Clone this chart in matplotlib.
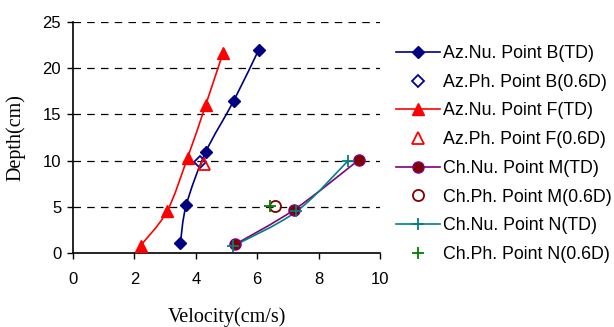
import matplotlib
matplotlib.use("Agg")
import matplotlib.pyplot as plt
import numpy as np
from matplotlib.path import Path
from matplotlib.patches import PathPatch
from matplotlib.lines import Line2D

# Data (velocity cm/s, depth cm)
azB_td_v = [3.50, 3.69, 4.32, 5.24, 6.05]
azB_td_d = [1.1, 5.2, 10.9, 16.5, 22.0]
azB_06_v = [4.13]
azB_06_d = [9.8]
azF_td_v = [2.20, 3.06, 3.73, 4.32, 4.88]
azF_td_d = [0.8, 4.5, 10.3, 16.0, 21.6]
azF_06_v = [4.27]
azF_06_d = [9.6]
chM_td_v = [5.29, 7.21, 9.32]
chM_td_d = [0.95, 4.7, 10.1]
chM_06_v = [6.58]
chM_06_d = [5.1]
chN_td_v = [5.22, 7.28, 8.95]
chN_td_d = [0.75, 4.5, 9.95]
chN_06_v = [6.41]
chN_06_d = [5.1]

labels = ["Az.Nu. Point B(TD)", "Az.Ph. Point B(0.6D)",
          "Az.Nu. Point F(TD)", "Az.Ph. Point F(0.6D)",
          "Ch.Nu. Point M(TD)", "Ch.Ph. Point M(0.6D)",
          "Ch.Nu. Point N(TD)", "Ch.Ph. Point N(0.6D)"]

fig = plt.figure(figsize=(6.14, 3.27), dpi=100)
ax = fig.add_axes([73/614, 1-253/327, (380-73)/614, (253-22)/327])

sans = "Liberation Sans"
serif = "Liberation Serif"


def smooth_line(ax, xs, ys, color, lw=1.2):
    """Excel-like smoothed line: cubic Bezier segments through the points."""
    p = np.column_stack([xs, ys]).astype(float)
    n = len(p)
    verts = [p[0]]
    codes = [Path.MOVETO]
    for i in range(n - 1):
        p0 = p[i - 1] if i > 0 else p[i]
        p1, p2 = p[i], p[i + 1]
        p3 = p[i + 2] if i + 2 < n else p[i + 1]
        c1 = p1 + (p2 - p0) / 6.0
        c2 = p2 - (p3 - p1) / 6.0
        verts += [c1, c2, p2]
        codes += [Path.CURVE4] * 3
    ax.add_patch(PathPatch(Path(verts, codes), fc="none", ec=color, lw=lw,
                           zorder=2))


series = [
    (azB_td_v, azB_td_d, dict(color="#000080", marker="D", ms=6,
                              mfc="#000080", mec="#000080"), True),
    (azB_06_v, azB_06_d, dict(color="#0000A0", marker="D", ms=6,
                              mfc="none", mec="#0000A0", mew=1.3), False),
    (azF_td_v, azF_td_d, dict(color="#FF0000", marker="^", ms=8.5,
                              mfc="#FF0000", mec="#FF0000"), True),
    (azF_06_v, azF_06_d, dict(color="#FF0000", marker="^", ms=8.5,
                              mfc="none", mec="#FF0000", mew=1.3), False),
    (chM_td_v, chM_td_d, dict(color="#800080", marker="o", ms=8,
                              mfc="#800000", mec="#800080"), True),
    (chM_06_v, chM_06_d, dict(color="#800000", marker="o", ms=8,
                              mfc="none", mec="#800000", mew=1.3), False),
    (chN_td_v, chN_td_d, dict(color="#008080", marker="+", ms=9,
                              mec="#008080", mew=1.3), True),
    (chN_06_v, chN_06_d, dict(color="#008000", marker="+", ms=9,
                              mec="#008000", mew=1.3), False),
]

handles = []
for xs, ys, st, has_line in series:
    if has_line:
        smooth_line(ax, xs, ys, st["color"])
    ax.plot(xs, ys, ls="none", zorder=3, **st)
    handles.append(Line2D([], [], ls="-" if has_line else "none", lw=1.2, **st))

ax.set_xlim(0, 10)
ax.set_ylim(0, 25)
ax.set_xticks([0, 2, 4, 6, 8, 10])
ax.set_yticks([0, 5, 10, 15, 20, 25])
for y in [5, 10, 15, 20, 25]:
    ax.axhline(y, color="black", lw=0.9, ls=(0, (6, 5)), zorder=0)
for s in ["top", "right"]:
    ax.spines[s].set_visible(False)
ax.spines["left"].set_linewidth(1.2)
ax.spines["bottom"].set_linewidth(1.2)
ax.tick_params(direction="out", length=4.5, width=1, labelsize=12)
ax.tick_params(axis="x", pad=9)
ax.tick_params(axis="y", pad=4)
for t in ax.get_xticklabels() + ax.get_yticklabels():
    t.set_fontfamily(sans)

ax.set_xlabel("Velocity(cm/s)", fontfamily=serif, fontsize=14.5, labelpad=15)
ax.set_ylabel("Depth(cm)", fontfamily=serif, fontsize=14.5, labelpad=12)

leg = fig.legend(handles=handles, labels=labels, loc="upper left",
                 bbox_to_anchor=(396/614, 1-45/327), frameon=False,
                 prop={"family": sans, "size": 12.8}, handlelength=2.5,
                 handletextpad=0.15, labelspacing=0.66, borderaxespad=0,
                 borderpad=0)

fig.savefig("out.png", dpi=100)
